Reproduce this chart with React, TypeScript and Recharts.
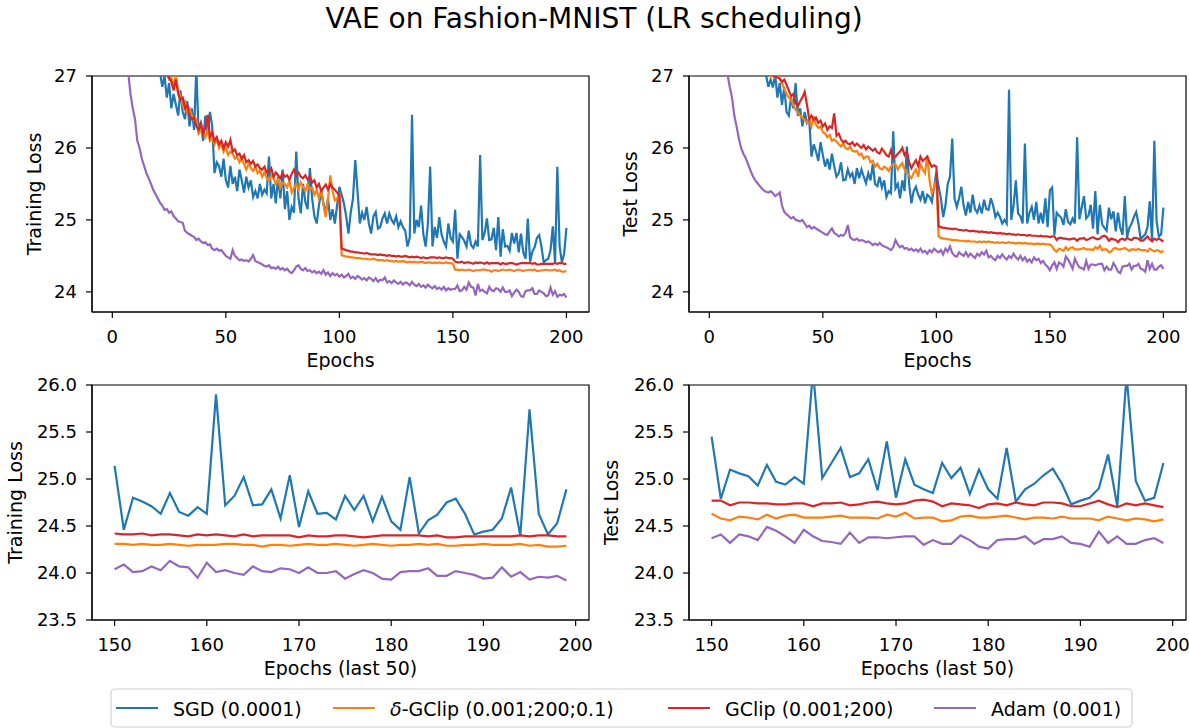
import { Line, LineChart, ReferenceArea, XAxis, YAxis } from "recharts";

// epochs 1..200 (index i -> epoch i + 1); the zoomed panels show indices 150..199
const trainSgd = [
  41.5, 36.8, 34.2, 32.6, 31.5, 30.7, 30.1, 29.6, 29.2, 28.9,
  28.6, 28.4, 28.2, 28.0, 27.8, 27.7, 27.55, 27.45, 27.35, 27.2,
  27.05, 26.85, 27.0, 26.7, 26.9, 26.55, 26.75, 26.6, 26.45, 26.8,
  26.5, 26.4, 26.65, 26.3, 26.55, 26.25, 27.1, 26.2, 26.35, 26.1,
  26.45, 26.2, 26.5, 26.3, 25.65, 25.8, 25.75, 25.6, 25.85, 25.55,
  25.45, 25.75, 25.5, 25.6, 25.4, 25.7, 25.55, 25.38, 25.6, 25.45,
  25.55, 25.32, 25.4, 25.3, 25.5, 25.35, 25.42, 25.37, 25.88, 25.3,
  25.5, 25.23, 25.6, 25.3, 25.7, 25.15, 25.4, 25.0, 25.18, 25.1,
  25.95, 25.3, 25.09, 25.5, 25.25, 25.15, 25.72, 25.3, 25.05, 24.95,
  25.2, 25.4, 25.23, 25.1, 25.3, 25.0, 25.15, 24.95, 25.2, 25.46,
  25.35, 25.23, 25.05, 24.81, 25.1, 25.3, 25.83, 25.4, 24.95, 25.1,
  25.0, 25.18, 24.95, 24.81, 25.05, 25.11, 24.88, 24.9, 25.02, 25.09,
  24.95, 25.09, 25.0, 24.95, 25.05, 24.9, 24.98, 24.9, 24.85, 24.63,
  24.75, 26.46, 24.81, 25.0, 24.9, 25.2, 24.8, 24.63, 24.95, 25.74,
  24.63, 24.9, 24.75, 25.04, 24.8, 24.7, 24.63, 24.95, 24.75, 24.7,
  25.14, 24.46, 24.8, 24.76, 24.71, 24.63, 24.85, 24.65, 24.61, 24.7,
  24.63, 25.9, 24.72, 24.82, 25.02, 24.72, 24.73, 24.89, 24.58, 25.04,
  24.49, 24.87, 24.63, 24.64, 24.57, 24.82, 24.67, 24.82, 24.55, 24.81,
  24.55, 24.46, 25.02, 24.42, 24.56, 24.62, 24.75, 24.79, 24.63, 24.41,
  24.44, 24.46, 24.58, 24.91, 24.4, 25.74, 24.63, 24.41, 24.53, 24.89,
];

const trainDgclip = [
  40.5, 35.2, 32.8, 31.4, 30.5, 29.8, 29.3, 28.9, 28.6, 28.35,
  28.15, 28.0, 27.85, 27.75, 27.62, 27.52, 27.42, 27.35, 27.28, 27.2,
  27.12, 27.08, 27.05, 27.02, 26.95, 26.98, 26.85, 27.0, 26.8, 26.72,
  26.6, 26.65, 26.5, 26.55, 26.45, 26.38, 26.4, 26.2, 26.25, 26.22,
  26.15, 26.25, 26.1, 26.15, 26.05, 26.12, 26.0, 26.05, 25.95, 26.02,
  25.9, 25.95, 25.92, 25.85, 25.88, 25.8, 25.85, 25.78, 25.7, 25.78,
  25.72, 25.68, 25.74, 25.65, 25.69, 25.6, 25.66, 25.58, 25.55, 25.62,
  25.58, 25.5, 25.56, 25.45, 25.52, 25.5, 25.45, 25.55, 25.38, 25.44,
  25.5, 25.42, 25.52, 25.46, 25.4, 25.5, 25.42, 25.45, 25.35, 25.42,
  25.3, 25.42, 25.2, 25.04, 25.3, 25.62, 25.4, 25.27, 25.3, 25.35,
  24.51, 24.5, 24.49, 24.49, 24.48, 24.48, 24.47, 24.47, 24.47, 24.46,
  24.46, 24.46, 24.45, 24.45, 24.46, 24.45, 24.44, 24.44, 24.44, 24.43,
  24.44, 24.43, 24.43, 24.42, 24.43, 24.42, 24.42, 24.43, 24.42, 24.41,
  24.42, 24.41, 24.42, 24.41, 24.41, 24.42, 24.41, 24.4, 24.41, 24.41,
  24.4, 24.41, 24.4, 24.41, 24.4, 24.4, 24.41, 24.4, 24.4, 24.39,
  24.31, 24.31, 24.3, 24.31, 24.3, 24.3, 24.31, 24.3, 24.29, 24.3,
  24.3, 24.3, 24.31, 24.31, 24.3, 24.3, 24.28, 24.3, 24.3, 24.29,
  24.3, 24.31, 24.3, 24.3, 24.31, 24.3, 24.29, 24.3, 24.31, 24.3,
  24.29, 24.3, 24.3, 24.31, 24.3, 24.31, 24.29, 24.29, 24.3, 24.3,
  24.31, 24.3, 24.3, 24.3, 24.31, 24.29, 24.3, 24.28, 24.28, 24.29,
];

const trainGclip = [
  40.8, 35.5, 33.0, 31.6, 30.6, 29.9, 29.4, 29.0, 28.7, 28.45,
  28.25, 28.05, 27.9, 27.78, 27.66, 27.55, 27.46, 27.38, 27.3, 27.22,
  27.15, 27.1, 27.06, 27.03, 26.98, 26.92, 26.8, 26.95, 26.75, 26.67,
  26.7, 26.55, 26.6, 26.45, 26.4, 26.42, 26.3, 26.25, 26.35, 26.2,
  26.28, 26.46, 26.15, 26.22, 26.1, 26.15, 26.05, 26.1, 26.0, 26.08,
  26.02, 26.11, 25.95, 25.98, 25.9, 25.92, 25.85, 25.9, 25.8, 25.83,
  25.78, 25.82, 25.74, 25.77, 25.72, 25.7, 25.74, 25.66, 25.68, 25.72,
  25.6, 25.66, 25.62, 25.58, 25.65, 25.6, 25.62, 25.56, 25.64, 25.7,
  25.62, 25.66, 25.6, 25.58, 25.62, 25.56, 25.6, 25.52, 25.55, 25.45,
  25.5, 25.4, 25.45, 25.49, 25.42, 25.5, 25.45, 25.42, 25.38, 25.35,
  24.6, 24.59, 24.58, 24.57, 24.56, 24.56, 24.55, 24.55, 24.54, 24.54,
  24.53, 24.54, 24.53, 24.52, 24.52, 24.52, 24.51, 24.52, 24.51, 24.51,
  24.5, 24.51, 24.5, 24.5, 24.49, 24.5, 24.49, 24.49, 24.5, 24.49,
  24.48, 24.49, 24.48, 24.49, 24.48, 24.47, 24.48, 24.47, 24.47, 24.48,
  24.48, 24.48, 24.47, 24.48, 24.47, 24.47, 24.48, 24.47, 24.47, 24.46,
  24.42, 24.41, 24.41, 24.42, 24.4, 24.41, 24.41, 24.4, 24.39, 24.41,
  24.4, 24.41, 24.4, 24.39, 24.41, 24.39, 24.4, 24.4, 24.4, 24.4,
  24.38, 24.4, 24.39, 24.39, 24.4, 24.4, 24.39, 24.38, 24.39, 24.4,
  24.4, 24.4, 24.4, 24.4, 24.39, 24.4, 24.38, 24.38, 24.39, 24.39,
  24.39, 24.39, 24.39, 24.39, 24.4, 24.39, 24.4, 24.4, 24.39, 24.39,
];

const trainAdam = [
  34.5, 31.2, 29.6, 28.6, 27.9, 27.45, 27.05, 26.75, 26.55, 26.4,
  26.1, 26.0, 25.85, 25.75, 25.65, 25.58, 25.5, 25.42, 25.36, 25.3,
  25.24, 25.2, 25.14, 25.15, 25.1, 25.12, 25.05, 25.02, 24.98, 24.97,
  24.96, 24.85, 24.82, 24.8, 24.78, 24.76, 24.72, 24.74, 24.7, 24.68,
  24.69, 24.65, 24.66, 24.6, 24.58, 24.6, 24.57, 24.58, 24.54, 24.5,
  24.48, 24.46, 24.58, 24.5, 24.47, 24.44, 24.45, 24.43, 24.44, 24.42,
  24.46, 24.51, 24.43, 24.41, 24.4, 24.38, 24.36, 24.35, 24.37, 24.33,
  24.34, 24.32, 24.35, 24.31, 24.33, 24.3, 24.32, 24.28, 24.26, 24.3,
  24.35, 24.37, 24.32, 24.3, 24.33, 24.29, 24.3, 24.27, 24.29, 24.26,
  24.28, 24.25, 24.3, 24.24, 24.27, 24.22, 24.26, 24.23, 24.25, 24.21,
  24.24, 24.2, 24.22, 24.25, 24.19, 24.21, 24.18, 24.22, 24.2, 24.17,
  24.19, 24.16, 24.2, 24.18, 24.15, 24.19, 24.14, 24.17, 24.16, 24.2,
  24.13, 24.15, 24.12, 24.16, 24.13, 24.11, 24.14, 24.1, 24.13, 24.12,
  24.09, 24.14, 24.1, 24.08, 24.11, 24.07, 24.09, 24.06, 24.1, 24.07,
  24.05, 24.08, 24.04, 24.06, 24.03, 24.07, 24.02, 24.05, 24.03, 24.04,
  24.04, 24.09, 24.01, 24.02, 24.07, 24.03, 24.13, 24.07, 24.06, 23.95,
  24.11, 24.01, 24.03, 24.0, 23.98, 24.07, 24.02, 24.01, 24.05, 24.04,
  24.0, 24.06, 24.0, 24.0, 24.02, 23.94, 23.99, 24.03, 24.0, 23.94,
  23.93, 24.01, 24.02, 24.02, 24.05, 23.97, 23.97, 24.02, 24.0, 23.98,
  23.94, 23.95, 24.06, 23.96, 24.01, 23.93, 23.96, 23.95, 23.97, 23.92,
];

const testSgd = [
  41.0, 36.2, 33.8, 32.2, 31.1, 30.4, 29.8, 29.3, 28.95, 28.65,
  28.4, 28.2, 28.0, 27.85, 27.72, 27.6, 27.5, 27.4, 27.32, 27.25,
  27.18, 27.12, 27.08, 27.04, 27.01, 26.85, 26.95, 26.84, 27.02, 26.7,
  26.9, 26.6, 26.85, 26.5, 26.45, 26.7, 26.55, 26.9, 26.45, 26.55,
  26.3, 26.5, 26.35, 26.4, 25.88, 26.05, 25.95, 25.82, 26.08, 25.9,
  25.74, 25.85, 25.7, 25.92, 25.75, 25.6, 25.65, 25.8, 25.55, 25.56,
  25.7, 25.6, 25.65, 25.5, 25.72, 25.58, 25.7, 25.6, 25.51, 25.65,
  25.55, 25.78, 25.5, 25.47, 25.6, 25.45, 25.55, 25.32, 25.4, 25.37,
  26.23, 25.44, 25.5, 25.3, 25.55, 25.4, 26.02, 25.5, 25.23, 25.4,
  25.46, 25.35, 25.28, 25.4, 25.23, 25.35, 25.32, 25.25, 25.45, 25.67,
  25.46, 25.3, 25.04, 25.2, 25.5, 25.6, 26.13, 25.3, 25.18, 25.3,
  25.46, 25.2, 25.06, 25.25, 25.1, 25.35, 25.15, 25.1, 25.2, 25.09,
  25.28, 25.15, 25.14, 25.3, 25.2, 25.04, 25.1, 25.04, 24.95, 25.0,
  24.95, 26.81, 25.0, 25.2, 25.55, 25.09, 25.05, 24.95, 26.06, 24.95,
  25.1, 25.18, 25.0, 25.25, 24.95, 25.1, 24.95, 25.3, 24.9, 25.41,
  25.45, 24.79, 25.1, 25.06, 25.03, 24.93, 25.15, 24.97, 24.94, 25.02,
  24.95, 26.15, 25.01, 25.17, 25.33, 25.02, 25.06, 25.21, 24.88, 25.4,
  24.8, 25.21, 24.94, 24.89, 24.85, 25.17, 25.01, 25.12, 24.84, 25.1,
  24.89, 24.79, 25.33, 24.76, 24.89, 24.95, 25.04, 25.11, 24.95, 24.73,
  24.77, 24.8, 24.9, 25.26, 24.71, 26.1, 24.98, 24.77, 24.8, 25.17,
];

const testDgclip = [
  40.2, 35.0, 32.6, 31.2, 30.3, 29.6, 29.1, 28.75, 28.45, 28.2,
  28.0, 27.85, 27.72, 27.6, 27.5, 27.42, 27.35, 27.28, 27.22, 27.17,
  27.13, 27.1, 27.07, 27.05, 27.03, 27.02, 27.0, 27.01, 26.98, 27.02,
  26.97, 26.9, 26.82, 26.75, 26.7, 26.67, 26.6, 26.53, 26.5, 26.45,
  26.42, 26.39, 26.35, 26.4, 26.3, 26.44, 26.32, 26.28, 26.3, 26.22,
  26.2, 26.15, 26.18, 26.1, 26.12, 26.09, 26.05, 26.02, 26.06, 26.0,
  25.98, 26.02, 25.96, 25.95, 25.96, 25.9, 25.92, 25.85, 25.88, 25.88,
  25.8, 25.82, 25.74, 25.78, 25.72, 25.7, 25.74, 25.72, 25.68, 25.74,
  25.78, 25.77, 25.7, 25.75, 25.79, 25.7, 25.65, 25.62, 25.58, 25.65,
  25.7, 25.6, 25.79, 25.7, 25.65, 25.9, 25.55, 25.37, 25.45, 25.55,
  24.77, 24.75, 24.74, 24.74, 24.73, 24.73, 24.72, 24.72, 24.72, 24.71,
  24.71, 24.71, 24.7, 24.71, 24.7, 24.7, 24.7, 24.69, 24.7, 24.69,
  24.7, 24.69, 24.7, 24.69, 24.69, 24.68, 24.69, 24.68, 24.69, 24.68,
  24.68, 24.69, 24.68, 24.68, 24.67, 24.68, 24.68, 24.67, 24.68, 24.67,
  24.67, 24.67, 24.66, 24.67, 24.67, 24.66, 24.67, 24.66, 24.66, 24.66,
  24.63, 24.58, 24.56, 24.6, 24.59, 24.57, 24.62, 24.58, 24.61, 24.62,
  24.59, 24.59, 24.59, 24.6, 24.61, 24.59, 24.59, 24.59, 24.58, 24.62,
  24.6, 24.64, 24.58, 24.59, 24.59, 24.55, 24.56, 24.6, 24.61, 24.59,
  24.59, 24.6, 24.61, 24.59, 24.57, 24.59, 24.59, 24.58, 24.6, 24.58,
  24.58, 24.58, 24.56, 24.6, 24.58, 24.56, 24.58, 24.57, 24.55, 24.57,
];

const testGclip = [
  40.6, 35.4, 32.9, 31.5, 30.5, 29.8, 29.3, 28.9, 28.6, 28.35,
  28.15, 27.98, 27.84, 27.72, 27.62, 27.53, 27.45, 27.38, 27.32, 27.26,
  27.21, 27.17, 27.13, 27.1, 27.07, 27.05, 27.03, 27.01, 26.99, 26.98,
  26.96, 26.92, 26.95, 26.88, 26.8, 26.72, 26.75, 26.62, 26.58, 26.65,
  26.7, 26.78, 26.6, 26.4, 26.45, 26.39, 26.42, 26.35, 26.38, 26.3,
  26.34, 26.25, 26.3, 26.28, 26.48, 26.17, 26.2, 26.12, 26.08, 26.1,
  26.06, 26.05, 26.08, 26.03, 26.06, 26.03, 26.0, 26.04, 25.98, 26.02,
  25.99, 25.96, 25.99, 25.94, 25.92, 25.99, 25.95, 25.9, 25.88, 25.97,
  25.86, 25.88, 25.92, 25.95, 26.0, 25.9, 25.95, 25.8, 25.72, 25.78,
  25.83, 25.75, 25.88, 25.82, 25.85, 25.88, 25.8, 25.74, 25.76, 25.74,
  24.91, 24.9, 24.89, 24.89, 24.88, 24.88, 24.87, 24.88, 24.87, 24.86,
  24.86, 24.85, 24.86, 24.85, 24.84, 24.85, 24.84, 24.84, 24.83, 24.84,
  24.83, 24.83, 24.82, 24.83, 24.82, 24.82, 24.81, 24.82, 24.81, 24.81,
  24.8, 24.81, 24.8, 24.8, 24.79, 24.8, 24.79, 24.79, 24.79, 24.78,
  24.79, 24.78, 24.78, 24.78, 24.77, 24.78, 24.77, 24.77, 24.77, 24.76,
  24.77, 24.77, 24.72, 24.75, 24.75, 24.74, 24.74, 24.73, 24.73, 24.74,
  24.74, 24.71, 24.74, 24.74, 24.75, 24.72, 24.73, 24.75, 24.76, 24.74,
  24.73, 24.74, 24.77, 24.78, 24.76, 24.71, 24.74, 24.73, 24.72, 24.69,
  24.73, 24.74, 24.72, 24.75, 24.73, 24.72, 24.75, 24.75, 24.74, 24.71,
  24.71, 24.74, 24.77, 24.73, 24.7, 24.74, 24.72, 24.74, 24.72, 24.7,
];

const testAdam = [
  35.0, 31.6, 29.9, 28.8, 28.1, 27.6, 27.25, 27.02, 26.85, 26.7,
  26.45, 26.3, 26.13, 26.0, 25.92, 25.86, 25.78, 25.7, 25.62, 25.56,
  25.52, 25.48, 25.44, 25.41, 25.39, 25.38, 25.4, 25.37, 25.33, 25.35,
  25.38, 25.2, 25.11, 25.08, 25.05, 25.02, 25.04, 25.0, 24.99, 24.98,
  25.0, 24.95, 24.9, 24.92, 24.88, 24.9, 24.88, 24.86, 24.84, 24.82,
  24.8, 24.79, 24.84, 24.88, 24.82, 24.8, 24.77, 24.79, 24.78, 24.82,
  24.93, 24.76, 24.73, 24.72, 24.74, 24.71, 24.72, 24.71, 24.69, 24.7,
  24.68, 24.65, 24.67, 24.65, 24.68, 24.65, 24.63, 24.62, 24.6, 24.58,
  24.62, 24.72, 24.66, 24.62, 24.64, 24.6, 24.61, 24.58, 24.6, 24.57,
  24.59, 24.56, 24.6, 24.55, 24.57, 24.53, 24.58, 24.55, 24.6, 24.57,
  24.55, 24.58, 24.52, 24.6, 24.56, 24.63, 24.54, 24.5, 24.49, 24.55,
  24.52, 24.5, 24.55, 24.49, 24.53, 24.5, 24.47, 24.53, 24.5, 24.55,
  24.52, 24.57, 24.48, 24.5, 24.46, 24.44, 24.5, 24.47, 24.52, 24.48,
  24.45, 24.5, 24.47, 24.53, 24.48, 24.45, 24.5, 24.44, 24.48, 24.42,
  24.45, 24.41, 24.48, 24.44, 24.46, 24.4, 24.43, 24.38, 24.35, 24.3,
  24.37, 24.41, 24.32, 24.41, 24.39, 24.35, 24.49, 24.45, 24.39, 24.32,
  24.46, 24.39, 24.34, 24.33, 24.31, 24.43, 24.32, 24.38, 24.38, 24.37,
  24.38, 24.39, 24.39, 24.3, 24.35, 24.31, 24.31, 24.4, 24.35, 24.28,
  24.26, 24.35, 24.36, 24.36, 24.39, 24.31, 24.36, 24.36, 24.39, 24.32,
  24.31, 24.28, 24.44, 24.32, 24.39, 24.31, 24.31, 24.35, 24.37, 24.32,
];

const fullTicks = [0, 50, 100, 150, 200];
const lastTicks = [150, 160, 170, 180, 190, 200];
const fullLossTicks = [24, 25, 26, 27];
const lastLossTicks = [23.5, 24.0, 24.5, 25.0, 25.5, 26.0];

const series = [
  { key: "sgd", label: "SGD (0.0001)", color: "#1f77b4" },
  { key: "dgclip", label: "δ-GClip (0.001;200;0.1)", color: "#ff7f0e" },
  { key: "gclip", label: "GClip (0.001;200)", color: "#d62728" },
  { key: "adam", label: "Adam (0.001)", color: "#9467bd" },
];

const FONT = "'DejaVu Sans', sans-serif";

type Row = { epoch: number; sgd: number; dgclip: number; gclip: number; adam: number };

function buildRows(sgd: number[], dg: number[], gc: number[], adam: number[]): Row[] {
  return sgd.map((_, i) => ({ epoch: i + 1, sgd: sgd[i], dgclip: dg[i], gclip: gc[i], adam: adam[i] }));
}

const trainRows = buildRows(trainSgd, trainDgclip, trainGclip, trainAdam);
const testRows = buildRows(testSgd, testDgclip, testGclip, testAdam);
// bottom panels: the last 50 entries, indexed 150..199
const lastRows = (rows: Row[]) => rows.slice(150).map((r) => ({ ...r, epoch: r.epoch - 1 }));

interface PanelProps {
  rows: Row[];
  left: number;
  top: number;
  width: number;
  height: number;
  marginTop: number;
  marginRight: number;
  yWidth: number;
  xHeight: number;
  xDomain: [number, number];
  yDomain: [number, number];
  xTicks: number[];
  yTicks: number[];
  yFormat?: (v: number) => string;
  xLabel: string;
  yLabel: string;
  yLabelDx: number;
  xLabelOffset: number;
}

function LossPanel(p: PanelProps) {
  const axisStroke = { stroke: "#000", strokeWidth: 1.2 };
  const tickStyle = { fontSize: 18, fill: "#000", fontFamily: FONT };
  return (
    <div style={{ position: "absolute", left: p.left, top: p.top }}>
      <LineChart
        width={p.width}
        height={p.height}
        data={p.rows}
        margin={{ top: p.marginTop, right: p.marginRight, left: 0, bottom: 0 }}
      >
        <XAxis
          type="number"
          dataKey="epoch"
          domain={p.xDomain}
          ticks={p.xTicks}
          interval={0}
          allowDataOverflow
          height={p.xHeight}
          tickSize={6}
          tickMargin={12}
          axisLine={axisStroke}
          tickLine={axisStroke}
          tick={tickStyle}
          label={{ value: p.xLabel, position: "insideBottom", offset: p.xLabelOffset, fontSize: 19, fill: "#000", fontFamily: FONT }}
        />
        <YAxis
          type="number"
          domain={p.yDomain}
          ticks={p.yTicks}
          interval={0}
          allowDataOverflow
          width={p.yWidth}
          tickSize={6}
          tickMargin={9}
          axisLine={axisStroke}
          tickLine={axisStroke}
          tick={tickStyle}
          tickFormatter={p.yFormat}
          label={{ value: p.yLabel, angle: -90, position: "center", dx: p.yLabelDx, fontSize: 19, fill: "#000", fontFamily: FONT }}
        />
        {series.map((s) => (
          <Line
            key={s.key}
            type="linear"
            dataKey={s.key}
            stroke={s.color}
            strokeWidth={2.2}
            dot={false}
            activeDot={false}
            isAnimationActive={false}
          />
        ))}
        <ReferenceArea
          x1={p.xDomain[0]}
          x2={p.xDomain[1]}
          y1={p.yDomain[0]}
          y2={p.yDomain[1]}
          fill="none"
          fillOpacity={0}
          stroke="#000"
          strokeWidth={1.2}
          strokeOpacity={1}
          ifOverflow="visible"
        />
      </LineChart>
    </div>
  );
}

const legendX = [116, 333, 668, 934];

export default function App() {
  const fmt1 = (v: number) => v.toFixed(1);
  const topCommon = {
    top: 40,
    height: 330,
    marginTop: 36,
    xHeight: 58,
    xDomain: [-8.95, 209.95] as [number, number],
    yDomain: [23.72, 27] as [number, number],
    xTicks: fullTicks,
    yTicks: fullLossTicks,
    xLabel: "Epochs",
    xLabelOffset: 3,
  };
  const bottomCommon = {
    top: 370,
    height: 315,
    marginTop: 15,
    xHeight: 65,
    xDomain: [147.55, 201.45] as [number, number],
    yDomain: [23.5, 26] as [number, number],
    xTicks: lastTicks,
    yTicks: lastLossTicks,
    yFormat: fmt1,
    xLabel: "Epochs (last 50)",
    xLabelOffset: 10.5,
  };
  return (
    <div
      style={{
        position: "absolute",
        left: 0,
        top: 0,
        width: 1189,
        height: 728,
        background: "#fff",
        fontFamily: FONT,
        overflow: "hidden",
      }}
    >
      <svg width={1189} height={728} style={{ position: "absolute", left: 0, top: 0 }}>
        <text x={594} y={28} textAnchor="middle" fontSize={28} fill="#000" fontFamily={FONT}>
          VAE on Fashion-MNIST (LR scheduling)
        </text>
        <rect x={111} y={689} width={1021} height={38} rx={4} fill="#fff" stroke="#d0d0d0" strokeWidth={1.2} />
        {series.map((s, i) => (
          <g key={s.key}>
            <line x1={legendX[i]} x2={legendX[i] + 42} y1={708} y2={708} stroke={s.color} strokeWidth={2.2} />
            <text x={legendX[i] + 57} y={716} fontSize={19} fill="#000" fontFamily={FONT}>
              {s.label.startsWith("δ") ? (
                <>
                  <tspan fontStyle="italic">δ</tspan>
                  {s.label.slice(1)}
                </>
              ) : (
                s.label
              )}
            </text>
          </g>
        ))}
      </svg>
      <LossPanel {...topCommon} rows={trainRows} left={0} width={600} marginRight={11} yWidth={92} yLabel="Training Loss" yLabelDx={-12} />
      <LossPanel {...topCommon} rows={testRows} left={600} width={589} marginRight={3} yWidth={89} yLabel="Test Loss" yLabelDx={-14.5} />
      <LossPanel {...bottomCommon} rows={lastRows(trainRows)} left={0} width={600} marginRight={11} yWidth={92} yLabel="Training Loss" yLabelDx={-31} />
      <LossPanel {...bottomCommon} rows={lastRows(testRows)} left={600} width={589} marginRight={3} yWidth={89} yLabel="Test Loss" yLabelDx={-33.5} />
    </div>
  );
}
